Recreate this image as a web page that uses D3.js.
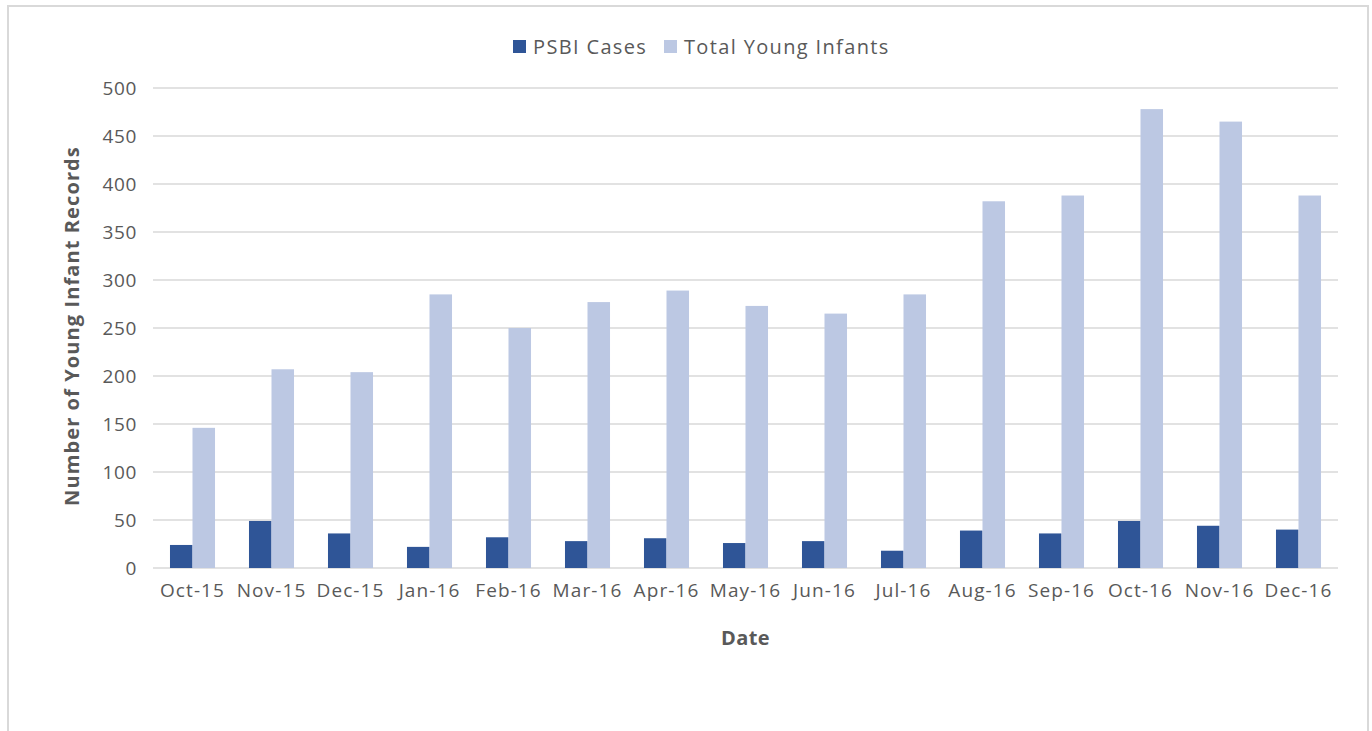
<!DOCTYPE html>
<html>
<head>
<meta charset="utf-8">
<script src="https://cdn.jsdelivr.net/npm/d3@7"></script>
<style>
  body { margin: 0; background: #fff; }
  text { font-family: "Open Sans", Calibri, sans-serif; fill: #595959; }
</style>
</head>
<body>
<div id="chart"></div>
<script>
// Data
var months = ["Oct-15", "Nov-15", "Dec-15", "Jan-16", "Feb-16", "Mar-16", "Apr-16", "May-16",
              "Jun-16", "Jul-16", "Aug-16", "Sep-16", "Oct-16", "Nov-16", "Dec-16"];
var psbiCases = [24, 49, 36, 22, 32, 28, 31, 26, 28, 18, 39, 36, 49, 44, 40];
var totalInfants = [146, 207, 204, 285, 250, 277, 289, 273, 265, 285, 382, 388, 478, 465, 388];
var seriesNames = ["PSBI Cases", "Total Young Infants"];
var yTicks = [0, 50, 100, 150, 200, 250, 300, 350, 400, 450, 500];

var colors = { "PSBI Cases": "#2F5597", "Total Young Infants": "#BCC8E3" };

var W = 1372, H = 731;
var margin = { top: 88, right: 34, bottom: 163, left: 153 },
    width = W - margin.left - margin.right,
    height = H - margin.top - margin.bottom;

var rows = months.map(function (m, i) {
    return { month: m, values: [
        { key: seriesNames[0], value: psbiCases[i] },
        { key: seriesNames[1], value: totalInfants[i] }
    ] };
});

var root = d3.select("#chart").append("svg")
    .attr("width", W)
    .attr("height", H);

// outer frame
root.append("rect")
    .attr("x", 8).attr("y", 6)
    .attr("width", 1360).attr("height", 740)
    .attr("fill", "#fff")
    .attr("stroke", "#D9D9D9")
    .attr("stroke-width", 2);

var svg = root.append("g")
    .attr("transform", `translate(${margin.left},${margin.top})`);

var x = d3.scaleBand()
    .domain(months)
    .range([0, width])
    .paddingInner(0.43)
    .paddingOuter(0.215);

var x1 = d3.scaleBand()
    .domain(seriesNames)
    .range([0, x.bandwidth()]);

var y = d3.scaleLinear()
    .domain([0, 500])
    .range([height, 0]);

// gridlines
svg.append("g")
    .selectAll("line")
    .data(yTicks)
    .enter()
    .append("line")
    .attr("x1", 0)
    .attr("x2", width)
    .attr("y1", d => y(d))
    .attr("y2", d => y(d))
    .attr("stroke", "#D9D9D9")
    .attr("stroke-width", 1.5);

// y axis labels
var yAxis = svg.append("g")
    .call(d3.axisLeft(y).tickValues(yTicks).tickSize(0).tickPadding(16));
yAxis.select(".domain").remove();
yAxis.selectAll("text")
    .style("font-size", "19px")
    .style("letter-spacing", "0.6px")
    .attr("fill", "#595959");

// x axis labels
var xAxis = svg.append("g")
    .attr("transform", `translate(0,${height})`)
    .call(d3.axisBottom(x).tickSize(0).tickPadding(16));
xAxis.select(".domain").remove();
xAxis.selectAll("text")
    .style("font-size", "19px")
    .style("letter-spacing", "1.1px")
    .attr("fill", "#595959");

// bars
var groups = svg.selectAll(".month")
    .data(rows)
    .enter()
    .append("g")
    .attr("transform", d => `translate(${x(d.month)},0)`);

groups.selectAll("rect")
    .data(d => d.values)
    .enter()
    .append("rect")
    .attr("x", d => x1(d.key))
    .attr("y", d => y(d.value))
    .attr("width", x1.bandwidth())
    .attr("height", d => height - y(d.value))
    .attr("fill", d => colors[d.key]);

// axis titles
svg.append("text")
    .attr("x", width / 2)
    .attr("y", height + 77)
    .attr("text-anchor", "middle")
    .style("font-size", "20px")
    .style("font-weight", "bold")
    .style("letter-spacing", "0.4px")
    .text("Date");

svg.append("text")
    .attr("x", -(height / 2) + 2)
    .attr("y", -74)
    .attr("text-anchor", "middle")
    .attr("transform", "rotate(-90)")
    .style("font-size", "20px")
    .style("font-weight", "bold")
    .style("letter-spacing", "1.1px")
    .text("Number of Young Infant Records");

// legend
var legend = root.append("g").attr("transform", "translate(513,40)");
var lx = [0, 151];
seriesNames.forEach(function (name, i) {
    legend.append("rect")
        .attr("x", lx[i]).attr("y", 0)
        .attr("width", 13).attr("height", 13)
        .attr("fill", colors[name]);
    legend.append("text")
        .attr("x", lx[i] + 20)
        .attr("y", 14)
        .style("font-size", "20px")
        .style("letter-spacing", "1.35px")
        .text(name);
});
</script>
</body>
</html>
